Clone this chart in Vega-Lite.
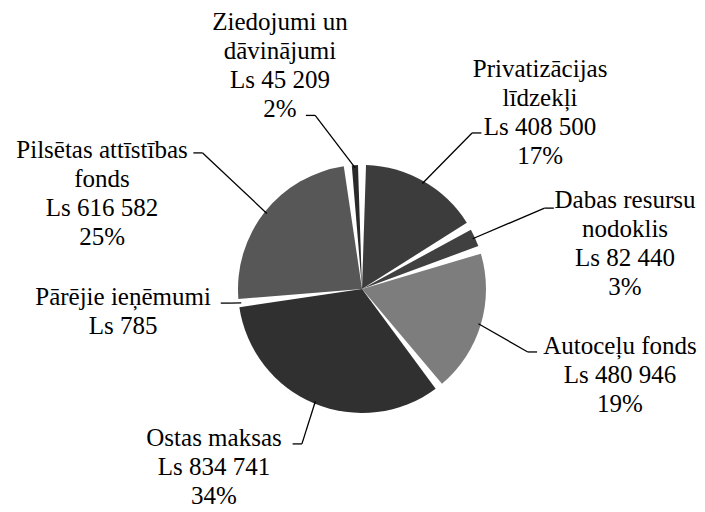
{
  "$schema": "https://vega.github.io/schema/vega-lite/v6.json",
  "width": 686,
  "height": 446,
  "autosize": "none",
  "padding": {"left": 19, "top": 66, "right": 0, "bottom": 0},
  "background": "white",
  "config": {"view": {"stroke": null}},
  "data": {
    "values": [
      {"idx": 0, "name": "Privatizācijas līdzekļi", "value": 408500, "label": ["Privatizācijas", "līdzekļi", "Ls 408 500", "17%"]},
      {"idx": 1, "name": "Dabas resursu nodoklis", "value": 82440, "label": ["Dabas resursu", "nodoklis", "Ls 82 440", "3%"]},
      {"idx": 2, "name": "Autoceļu fonds", "value": 480946, "label": ["Autoceļu fonds", "Ls 480 946", "19%"]},
      {"idx": 3, "name": "Ostas maksas", "value": 834741, "label": ["Ostas maksas", "Ls 834 741", "34%"]},
      {"idx": 4, "name": "Pārējie ieņēmumi", "value": 785, "label": ["Pārējie ieņēmumi", "Ls 785"]},
      {"idx": 5, "name": "Pilsētas attīstības fonds", "value": 616582, "label": ["Pilsētas attīstības", "fonds", "Ls 616 582", "25%"]},
      {"idx": 6, "name": "Ziedojumi un dāvinājumi", "value": 45209, "label": ["Ziedojumi un", "dāvinājumi", "Ls 45 209", "2%"]}
    ]
  },
  "transform": [
    {"window": [{"op": "sum", "field": "value", "as": "cum"}], "sort": [{"field": "idx"}], "frame": [null, 0]},
    {"joinaggregate": [{"op": "sum", "field": "value", "as": "total"}]},
    {"calculate": "2*PI*(datum.cum - datum.value/2)/datum.total", "as": "mid"},
    {"calculate": "[35.2,66.1,110.8,201.2,263.9,310.5,344.9][datum.idx]*PI/180", "as": "ea"},
    {"calculate": "[1.54,1.61,1.43,1.34,1.07,1.69,1.45][datum.idx]", "as": "len"},
    {"calculate": "0.98*sin(datum.mid)", "as": "x0"},
    {"calculate": "0.98*cos(datum.mid)", "as": "y0"},
    {"calculate": "datum.len*sin(datum.ea)", "as": "x1"},
    {"calculate": "datum.len*cos(datum.ea)", "as": "y1"},
    {"calculate": "datum.x1 + (sin(datum.ea) >= 0 ? 0.075 : -0.075)", "as": "x2"},
    {"calculate": "datum.x2 + [58.7,71.2,82.9,-78.6,-97.7,-91.3,-25.9][datum.idx]/124", "as": "tx"},
    {"calculate": "datum.y1 - [-64,-8.2,-6,-6,-6,-2.9,-93.4][datum.idx]/124", "as": "ty"}
  ],
  "layer": [
    {
      "mark": {"type": "arc", "outerRadius": 124, "padAngle": 0.065},
      "encoding": {
        "theta": {"field": "value", "type": "quantitative", "stack": true},
        "order": {"field": "idx", "type": "quantitative"},
        "color": {
          "field": "name",
          "type": "nominal",
          "scale": {
            "domain": ["Privatizācijas līdzekļi", "Dabas resursu nodoklis", "Autoceļu fonds", "Ostas maksas", "Pārējie ieņēmumi", "Pilsētas attīstības fonds", "Ziedojumi un dāvinājumi"],
            "range": ["#3c3c3c", "#404040", "#7d7d7d", "#303030", "#555555", "#575757", "#2a2a2a"]
          },
          "legend": null
        }
      }
    },
    {
      "mark": {"type": "rule", "color": "black", "strokeWidth": 1.3},
      "encoding": {
        "x": {"field": "x0", "type": "quantitative", "scale": {"domain": [-2.7661, 2.7661], "nice": false, "zero": false}, "axis": null},
        "y": {"field": "y0", "type": "quantitative", "scale": {"domain": [-1.7984, 1.7984], "nice": false, "zero": false}, "axis": null},
        "x2": {"field": "x1"},
        "y2": {"field": "y1"}
      }
    },
    {
      "mark": {"type": "rule", "color": "black", "strokeWidth": 1.3},
      "encoding": {
        "x": {"field": "x1", "type": "quantitative"},
        "y": {"field": "y1", "type": "quantitative"},
        "x2": {"field": "x2"},
        "y2": {"field": "y1"}
      }
    },
    {
      "mark": {"type": "text", "font": "Liberation Serif", "fontSize": 25, "lineHeight": 29, "align": "center", "baseline": "middle", "color": "black"},
      "encoding": {
        "x": {"field": "tx", "type": "quantitative"},
        "y": {"field": "ty", "type": "quantitative"},
        "text": {"field": "label", "type": "nominal"}
      }
    }
  ]
}
